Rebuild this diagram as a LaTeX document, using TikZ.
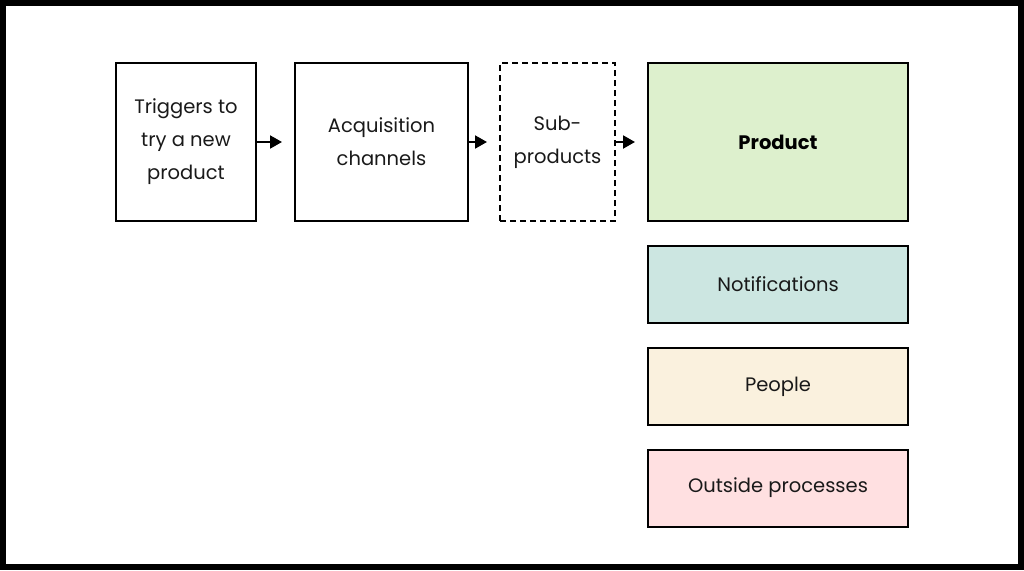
\documentclass[tikz,border=0pt]{standalone}
\usepackage{fontspec}
\setmainfont{Poppins}
\usetikzlibrary{arrows.meta}
\definecolor{prGreen} {RGB}{221,240,205}
\definecolor{prTeal}  {RGB}{204,230,225}
\definecolor{prCream} {RGB}{250,241,222}
\definecolor{prPink}  {RGB}{255,224,225}

\begin{document}
\begin{tikzpicture}
[x=1pt, y=-1pt, line width=2pt, >={Triangle[length=12pt,width=13pt]},
  box/.style = { draw, rectangle, align=center, inner sep=0pt, minimum height=158pt,
                 font=\fontsize{19.5}{33}\selectfont, text=black!90 },
  side/.style = { box, minimum width=260pt, minimum height=77pt },
  arr/.style = { ->, shorten >=12pt }
]

% Frame:
\useasboundingbox (0,0) rectangle (1024,570);
\draw[line width=6pt] (3,3) rectangle (1021,567);

% Top row:
\node[box, minimum width=140pt] (trig) at (186,142) {Triggers to\\try a new\\product};
\node[box, minimum width=173pt] (acq)  at (381.5,142) {Acquisition\\channels};
\node[box, minimum width=115pt, dash pattern=on 6pt off 4pt] (sub) at (557.5,142) {Sub-\\products};
\node[box, minimum width=260pt, fill=prGreen, font=\fontsize{19.5}{33}\selectfont\bfseries, text=black] (prod) at (778,142) {Product};

% Arrows:
\draw[arr] (trig) -- (acq);
\draw[arr] (acq)  -- (sub);
\draw[arr] (sub)  -- (prod);

% Side boxes below the product:
\node[side, fill=prTeal]  (notif) at (778,284.5) {Notifications};
\node[side, fill=prCream] (peop)  at (778,386.5) {People};
\node[side, fill=prPink]  (outs)  at (778,488)   {Outside processes};
\end{tikzpicture}
\end{document}
